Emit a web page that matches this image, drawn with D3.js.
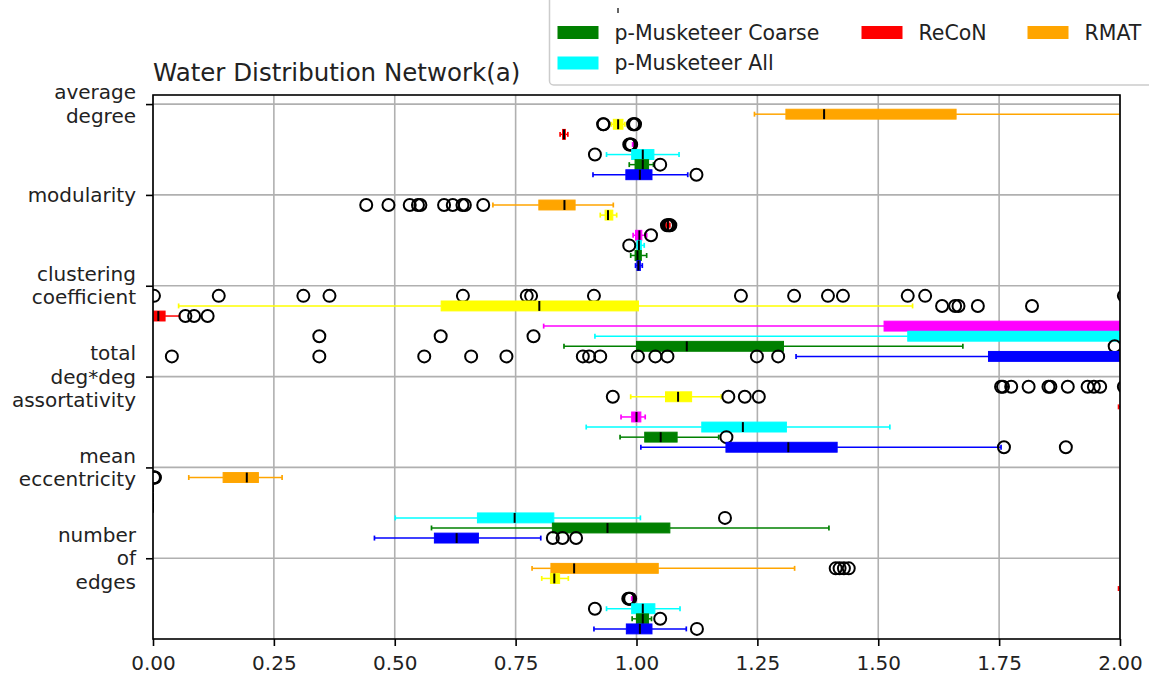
<!DOCTYPE html>
<html>
<head>
<meta charset="utf-8">
<script src="https://cdn.jsdelivr.net/npm/d3@7"></script>
<style>
  body { margin: 0; background: #fff; }
  svg { display: block; }
  text { font-family: "DejaVu Sans", sans-serif; fill: #222; }
</style>
</head>
<body>
<svg id="chart" width="1149" height="677"></svg>
<script>
// ---------------- DATA ----------------
const chartTitle = "Water Distribution Network(a)";
const metricLabels = [
  ["average", "degree"],
  ["modularity"],
  ["clustering", "coefficient"],
  ["total", "deg*deg", "assortativity"],
  ["mean", "eccentricity"],
  ["number", "of", "edges"]
];
const xTicks = [0, 0.25, 0.5, 0.75, 1.0, 1.25, 1.5, 1.75, 2.0];

// series, top to bottom inside each metric group
const seriesNames = ["RMAT", "BTER", "ReCoN", "Kronecker", "p-Musketeer All", "p-Musketeer Coarse", "p-Musketeer Fine"];

// box stats per metric: [low whisker, Q1, median, Q3, high whisker]
const rmatBoxes = [
  [1.244, 1.309, 1.388, 1.661, 2.4],
  [0.703, 0.798, 0.851, 0.873, 0.952],
  [2.2, 2.5, 2.7, 3.0, 3.5],
  [2.1, 2.4, 2.6, 2.9, 3.3],
  [0.074, 0.145, 0.194, 0.218, 0.267],
  [0.784, 0.823, 0.871, 1.045, 1.327]
];
const rmatOutliers = [
  [],
  [0.441, 0.487, 0.531, 0.548, 0.553, 0.602, 0.620, 0.640, 0.645, 0.683],
  [0.002, 0.136, 0.311, 0.365, 0.641, 0.773, 0.782, 0.912, 1.216, 1.326, 1.396, 1.427, 1.561, 1.597, 2.008],
  [1.754, 1.758, 1.775, 1.811, 1.852, 1.856, 1.892, 1.933, 1.946, 1.959, 2.008],
  [0.002, 0.003, 0.004],
  [1.412, 1.420, 1.429, 1.439]
];

const bterBoxes = [
  [0.948, 0.952, 0.962, 0.972, 0.976],
  [0.925, 0.935, 0.941, 0.951, 0.959],
  [0.053, 0.596, 0.799, 1.004, 1.571],
  [0.988, 1.060, 1.086, 1.114, 1.175],
  [0, 0, 0, 0, 0],
  [0.804, 0.822, 0.830, 0.841, 0.859]
];
const bterOutliers = [
  [0.931, 0.932, 0.993, 0.995, 0.997],
  [],
  [1.632, 1.659, 1.666, 1.706, 1.818],
  [0.951, 1.190, 1.224, 1.253],
  [],
  []
];

const reconBoxes = [
  [0.842, 0.847, 0.850, 0.853, 0.858],
  [1.061, 1.063, 1.065, 1.067, 1.069],
  [0.0, 0.0, 0.011, 0.025, 0.055],
  [1.997, 2.2, 2.4, 2.6, 2.9],
  [0, 0, 0, 0, 0],
  [1.997, 2.2, 2.4, 2.6, 2.9]
];
const reconOutliers = [
  [],
  [1.063, 1.066, 1.068, 1.070],
  [0.067, 0.085, 0.113],
  [],
  [],
  []
];

const kroneckerBoxes = [
  [0.992, 0.994, 0.996, 0.998, 1.001],
  [0.993, 0.998, 1.006, 1.011, 1.021],
  [0.808, 1.512, 2.3, 2.6, 3.0],
  [0.968, 0.990, 1.000, 1.009, 1.018],
  [0, 0, 0, 0, 0],
  [0.990, 0.992, 0.994, 0.996, 0.999]
];
const kroneckerOutliers = [
  [0.985, 0.987, 0.989],
  [1.030],
  [],
  [],
  [],
  [0.983, 0.985, 0.987]
];

const pmAllBoxes = [
  [0.938, 0.990, 1.013, 1.036, 1.088],
  [0.998, 1.001, 1.005, 1.010, 1.016],
  [0.914, 1.561, 2.2, 2.5, 3.0],
  [0.896, 1.135, 1.220, 1.310, 1.524],
  [0.501, 0.671, 0.748, 0.829, 1.008],
  [0.938, 0.990, 1.013, 1.038, 1.090]
];
const pmAllOutliers = [
  [0.914],
  [0.985],
  [0.344, 0.595, 0.787],
  [],
  [1.183],
  [0.914]
];

const pmCoarseBoxes = [
  [0.985, 0.997, 1.013, 1.025, 1.035],
  [0.988, 0.997, 1.002, 1.010, 1.021],
  [0.850, 1.000, 1.104, 1.304, 1.675],
  [0.966, 1.017, 1.050, 1.084, 1.170],
  [0.576, 0.826, 0.940, 1.069, 1.398],
  [0.991, 1.000, 1.013, 1.025, 1.031]
];
const pmCoarseOutliers = [
  [1.049],
  [],
  [1.989],
  [1.186],
  [],
  [1.049]
];

const pmFineBoxes = [
  [0.910, 0.978, 1.007, 1.032, 1.106],
  [0.998, 1.001, 1.004, 1.008, 1.012],
  [1.330, 1.728, 2.2, 2.6, 3.0],
  [1.009, 1.185, 1.314, 1.415, 1.754],
  [0.458, 0.582, 0.628, 0.673, 0.802],
  [0.912, 0.979, 1.007, 1.032, 1.103]
];
const pmFineOutliers = [
  [1.124],
  [],
  [0.039, 0.344, 0.561, 0.658, 0.731, 0.889, 0.902, 0.925, 1.003, 1.039, 1.064, 1.249, 1.293],
  [1.760, 1.888],
  [0.827, 0.847, 0.875],
  [1.125]
];

// legend entries in the order the legend lists them (column by column)
const legendNames = ["p-Musketeer Fine", "p-Musketeer Coarse", "p-Musketeer All", "BTER", "ReCoN", "Kronecker", "RMAT"];

// ---------------- STYLE / LAYOUT ----------------
const seriesColors = ["#ffa500", "#ffff00", "#ff0000", "#ff00ff", "#00ffff", "#008000", "#0000ff"];
const allBoxes = [rmatBoxes, bterBoxes, reconBoxes, kroneckerBoxes, pmAllBoxes, pmCoarseBoxes, pmFineBoxes];
const allOutliers = [rmatOutliers, bterOutliers, reconOutliers, kroneckerOutliers, pmAllOutliers, pmCoarseOutliers, pmFineOutliers];

const L = 153, R = 1120, T = 95, B = 639;
const groupStep = 9;
const fontSize = 20;

const svg = d3.select("#chart");
const x = d3.scaleLinear().domain([0, 2]).range([L, R]);
const y = d3.scaleLinear().domain([-0.9, 53]).range([T, B]);
const unit = y(1) - y(0);
const boxH = unit * 0.98;

svg.append("defs").append("clipPath").attr("id", "plotClip")
  .append("rect").attr("x", L).attr("y", T).attr("width", R - L).attr("height", B - T);

// grid
const grid = svg.append("g");
grid.selectAll("line.vg").data(xTicks).join("line")
  .attr("x1", d => x(d)).attr("x2", d => x(d)).attr("y1", T).attr("y2", B)
  .attr("stroke", "#b0b0b0").attr("stroke-width", 1.6);
grid.selectAll("line.hg").data(metricLabels.map((_, i) => i * groupStep)).join("line")
  .attr("x1", L).attr("x2", R).attr("y1", d => y(d)).attr("y2", d => y(d))
  .attr("stroke", "#b0b0b0").attr("stroke-width", 1.6);

// boxes
const plot = svg.append("g").attr("clip-path", "url(#plotClip)");
allBoxes.forEach((boxes, s) => {
  const col = seriesColors[s];
  const g = plot.append("g");
  boxes.forEach((st, m) => {
    if (!st) return;
    const yc = y(m * groupStep + s + 1);
    const [wl, q1, med, q3, wh] = st;
    g.append("line").attr("x1", x(wl)).attr("x2", x(q1)).attr("y1", yc).attr("y2", yc)
      .attr("stroke", col).attr("stroke-width", 1.5);
    g.append("line").attr("x1", x(q3)).attr("x2", x(wh)).attr("y1", yc).attr("y2", yc)
      .attr("stroke", col).attr("stroke-width", 1.5);
    [wl, wh].forEach(v => {
      g.append("line").attr("x1", x(v)).attr("x2", x(v))
        .attr("y1", yc - boxH / 4).attr("y2", yc + boxH / 4)
        .attr("stroke", col).attr("stroke-width", 1.7);
    });
    g.append("rect").attr("x", x(q1)).attr("y", yc - boxH / 2)
      .attr("width", Math.max(0, x(q3) - x(q1))).attr("height", boxH)
      .attr("fill", col).attr("stroke", col).attr("stroke-width", 1);
    g.append("line").attr("x1", x(med)).attr("x2", x(med))
      .attr("y1", yc - boxH / 2).attr("y2", yc + boxH / 2)
      .attr("stroke", "#000").attr("stroke-width", 2);
    g.selectAll(null).data(allOutliers[s][m]).join("circle")
      .attr("cx", d => x(d)).attr("cy", yc).attr("r", 6)
      .attr("fill", "none").attr("stroke", "#000").attr("stroke-width", 2);
  });
});

// frame
svg.append("rect").attr("x", L).attr("y", T).attr("width", R - L).attr("height", B - T)
  .attr("fill", "none").attr("stroke", "#000").attr("stroke-width", 1.6);

// x axis
const xAxis = svg.append("g").attr("transform", `translate(0,${B})`)
  .call(d3.axisBottom(x).tickValues(xTicks).tickFormat(d3.format(".2f")).tickSize(7).tickSizeOuter(0));
xAxis.select(".domain").remove();
xAxis.selectAll(".tick line").attr("stroke", "#000").attr("stroke-width", 1.6);
xAxis.selectAll(".tick text").attr("y", 31).attr("dy", null)
  .style("font-size", fontSize + "px").style("font-family", "'DejaVu Sans', sans-serif").attr("fill", "#222");

// y axis
const yAxis = svg.append("g").attr("transform", `translate(${L},0)`)
  .call(d3.axisLeft(y).tickValues(metricLabels.map((_, i) => i * groupStep)).tickFormat(() => "").tickSize(7).tickSizeOuter(0));
yAxis.select(".domain").remove();
yAxis.selectAll(".tick line").attr("stroke", "#000").attr("stroke-width", 1.6);
yAxis.selectAll(".tick text").each(function(d, i) {
  const lines = metricLabels[i];
  const t = d3.select(this).attr("x", -17).attr("dy", null).attr("y", 0)
    .attr("text-anchor", "end").style("font-size", fontSize + "px")
    .style("font-family", "'DejaVu Sans', sans-serif").attr("fill", "#222");
  const lh = fontSize * 1.17;
  lines.forEach((ln, k) => {
    t.append("tspan").attr("x", -17).attr("y", 6.5 + (k - (lines.length - 1) / 2) * lh).text(ln);
  });
});

// title
svg.append("text").attr("x", L).attr("y", 81).style("font-size", "24.5px").text(chartTitle);

// legend (its first row is cut off by the top edge of the figure)
const lg = svg.append("g");
lg.append("rect").attr("x", 549.5).attr("y", -20).attr("width", 640).attr("height", 105)
  .attr("rx", 4).attr("fill", "#fff").attr("stroke", "#cccccc").attr("stroke-width", 1.5);
const colSizes = [3, 2, 2];
const colX = [557.5, 861.5, 1027.5];
const rowPitch = 30.5, row0 = 2;
let idx = 0;
colSizes.forEach((n, c) => {
  for (let r = 0; r < n; r++, idx++) {
    if (r === 0) continue; // hidden row
    const name = legendNames[idx];
    const s = seriesNames.indexOf(name);
    const cy = row0 + r * rowPitch;
    lg.append("rect").attr("x", colX[c]).attr("y", cy - 6.5).attr("width", 41).attr("height", 13)
      .attr("fill", seriesColors[s]);
    lg.append("text").attr("x", colX[c] + 57).attr("y", cy + 7).style("font-size", "20.5px").text(name);
  }
});
lg.append("line").attr("x1", 618).attr("x2", 618).attr("y1", 8).attr("y2", 13)
  .attr("stroke", "#333").attr("stroke-width", 1.5);
</script>
</body>
</html>
